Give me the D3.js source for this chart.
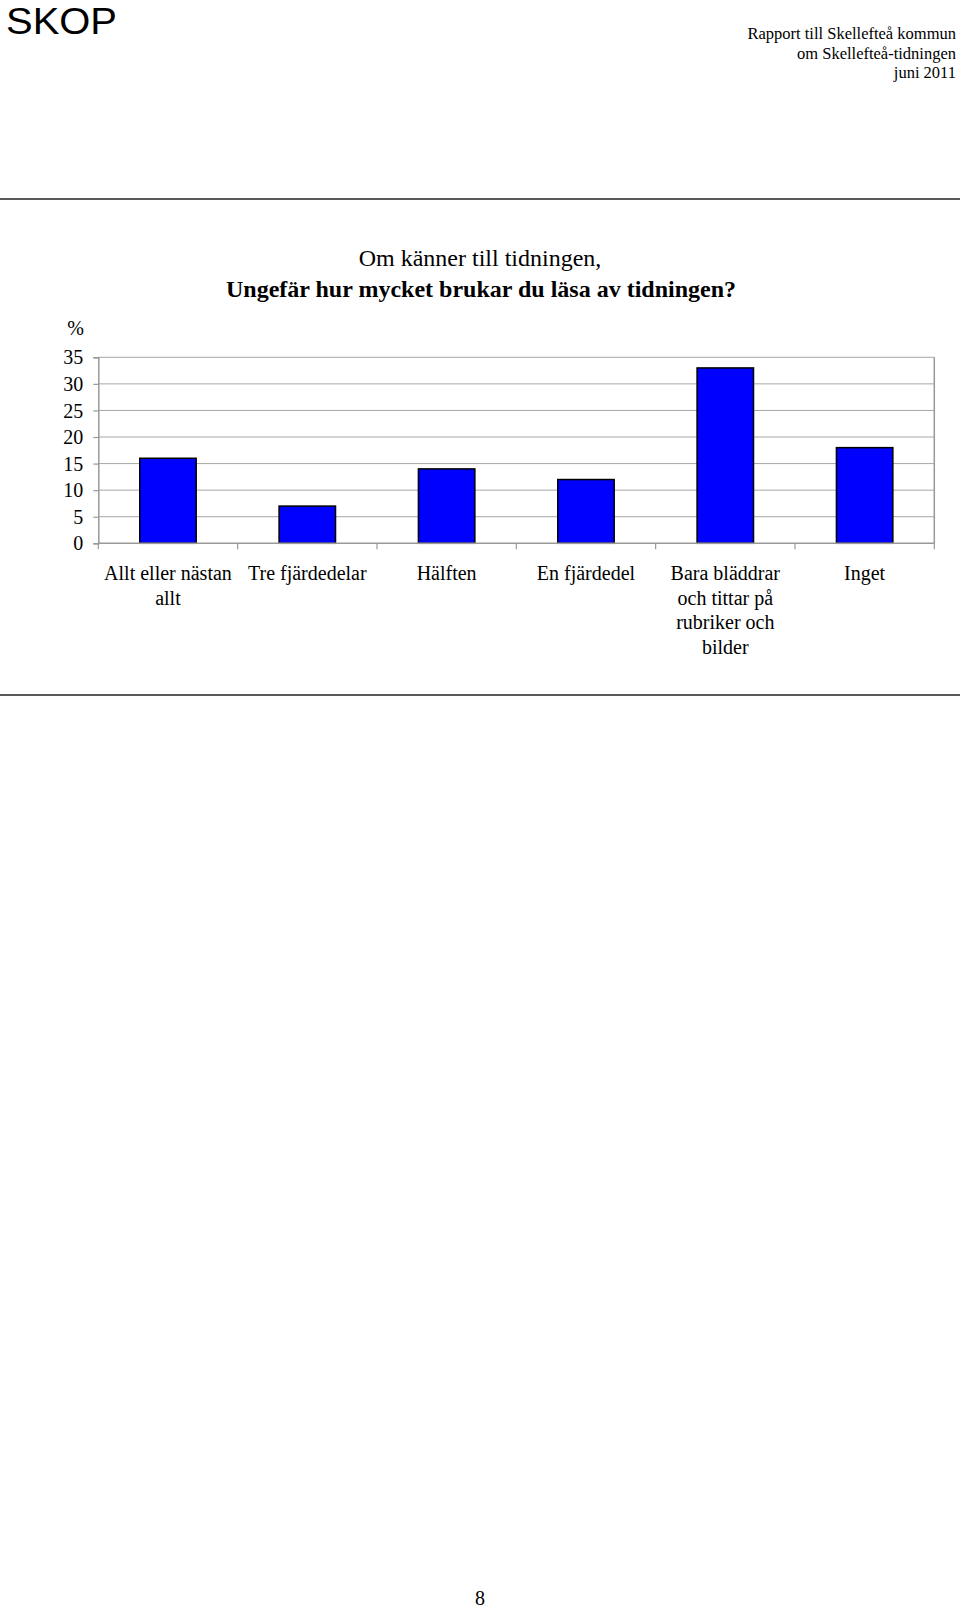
<!DOCTYPE html>
<html>
<head>
<meta charset="utf-8">
<script src="https://cdn.jsdelivr.net/npm/d3@7"></script>
<style>
  html, body { margin: 0; padding: 0; background: #fff; }
  svg { display: block; }
</style>
</head>
<body>
<svg id="page" width="960" height="1609"></svg>
<script>
// ---- data ----
const categories = [
  "Allt eller nästan allt",
  "Tre fjärdedelar",
  "Hälften",
  "En fjärdedel",
  "Bara bläddrar och tittar på rubriker och bilder",
  "Inget"
];
const categoryLines = [
  ["Allt eller nästan", "allt"],
  ["Tre fjärdedelar"],
  ["Hälften"],
  ["En fjärdedel"],
  ["Bara bläddrar", "och tittar på", "rubriker och", "bilder"],
  ["Inget"]
];
const values = [16, 7, 14, 12, 33, 18];
const yTicks = [0, 5, 10, 15, 20, 25, 30, 35];
const titleLine1 = "Om känner till tidningen,";
const titleLine2 = "Ungefär hur mycket brukar du läsa av tidningen?";
const headerRight = ["Rapport till Skellefteå kommun", "om Skellefteå-tidningen", "juni 2011"];

// ---- drawing ----
(function () {
const svg = d3.select("#page");
const serif = "'Liberation Serif', 'Times New Roman', serif";

// header
svg.append("text").attr("x", 6).attr("y", 34)
  .attr("font-family", "'Liberation Sans', Arial, sans-serif")
  .attr("font-size", 37).attr("fill", "#000")
  .attr("textLength", 111).attr("lengthAdjust", "spacingAndGlyphs")
  .text("SKOP");

svg.selectAll("text.hdr").data(headerRight).enter().append("text")
  .attr("class", "hdr")
  .attr("x", 956).attr("y", (d, i) => 39 + i * 19.5)
  .attr("text-anchor", "end")
  .attr("font-family", serif).attr("font-size", 16.5).attr("fill", "#000")
  .text(d => d);

// rules
svg.append("line").attr("x1", 0).attr("x2", 960).attr("y1", 199).attr("y2", 199)
  .attr("stroke", "#222").attr("stroke-width", 1.5);
svg.append("line").attr("x1", 0).attr("x2", 960).attr("y1", 695).attr("y2", 695)
  .attr("stroke", "#222").attr("stroke-width", 1.5);

// title
svg.append("text").attr("x", 480).attr("y", 266).attr("text-anchor", "middle")
  .attr("font-family", serif).attr("font-size", 24).attr("fill", "#000").text(titleLine1);
svg.append("text").attr("x", 481).attr("y", 297).attr("text-anchor", "middle")
  .attr("font-family", serif).attr("font-size", 24).attr("font-weight", "bold")
  .attr("fill", "#000").text(titleLine2);

// plot
const pLeft = 98.3, pRight = 934.3, pTop = 357.3, pBottom = 543.3;
const x = d3.scaleBand().domain(categories).range([pLeft, pRight])
  .paddingInner(0.595).paddingOuter(0.2975);
const xCat = d3.scaleBand().domain(categories).range([pLeft, pRight]).padding(0);
const y = d3.scaleLinear().domain([0, 35]).range([pBottom, pTop]);

// gridlines
svg.append("g").selectAll("line").data(yTicks.filter(t => t > 0)).enter().append("line")
  .attr("x1", pLeft).attr("x2", pRight)
  .attr("y1", d => y(d)).attr("y2", d => y(d))
  .attr("stroke", "#a6a6a6").attr("stroke-width", 1);

// right border
svg.append("line").attr("x1", pRight).attr("x2", pRight).attr("y1", pTop).attr("y2", pBottom)
  .attr("stroke", "#999").attr("stroke-width", 1.5);

// bars
svg.append("g").selectAll("rect").data(values).enter().append("rect")
  .attr("x", (d, i) => x(categories[i]))
  .attr("y", d => y(d))
  .attr("width", x.bandwidth())
  .attr("height", d => y(0) - y(d))
  .attr("fill", "#0000ff")
  .attr("stroke", "#000").attr("stroke-width", 1.5);

// y axis
const yAxis = d3.axisLeft(y).tickValues(yTicks).tickSize(5).tickPadding(10).tickFormat(d3.format("d"));
const gy = svg.append("g").attr("transform", `translate(${pLeft},0)`).call(yAxis);
gy.select(".domain").attr("stroke", "#999").attr("stroke-width", 1.5);
gy.selectAll(".tick line").attr("stroke", "#999").attr("stroke-width", 1.2);
gy.selectAll(".tick text").attr("font-family", serif).attr("font-size", 20)
  .attr("fill", "#000").attr("dy", "0.33em");

// x axis (ticks at category boundaries)
const boundaries = categories.map(c => xCat(c)).concat([pRight]);
svg.append("line").attr("x1", pLeft).attr("x2", pRight).attr("y1", pBottom).attr("y2", pBottom)
  .attr("stroke", "#999").attr("stroke-width", 1.5);
svg.append("g").selectAll("line").data(boundaries).enter().append("line")
  .attr("x1", d => d).attr("x2", d => d).attr("y1", pBottom).attr("y2", pBottom + 6)
  .attr("stroke", "#999").attr("stroke-width", 1.2);

// category labels
const lbl = svg.append("g").selectAll("text").data(categories).enter().append("text")
  .attr("x", d => xCat(d) + xCat.bandwidth() / 2)
  .attr("y", 580)
  .attr("text-anchor", "middle")
  .attr("font-family", serif).attr("font-size", 20).attr("fill", "#000");
lbl.each(function(d, i) {
  d3.select(this).selectAll("tspan").data(categoryLines[i]).enter().append("tspan")
    .attr("x", xCat(d) + xCat.bandwidth() / 2)
    .attr("dy", (t, j) => j === 0 ? 0 : 24.7)
    .text(t => t);
});

// % unit label
svg.append("text").attr("x", 75.5).attr("y", 335).attr("text-anchor", "middle")
  .attr("font-family", serif).attr("font-size", 20).attr("fill", "#000").text("%");

// page number
svg.append("text").attr("x", 480).attr("y", 1605).attr("text-anchor", "middle")
  .attr("font-family", serif).attr("font-size", 20).attr("fill", "#000").text("8");
})();
</script>
</body>
</html>
